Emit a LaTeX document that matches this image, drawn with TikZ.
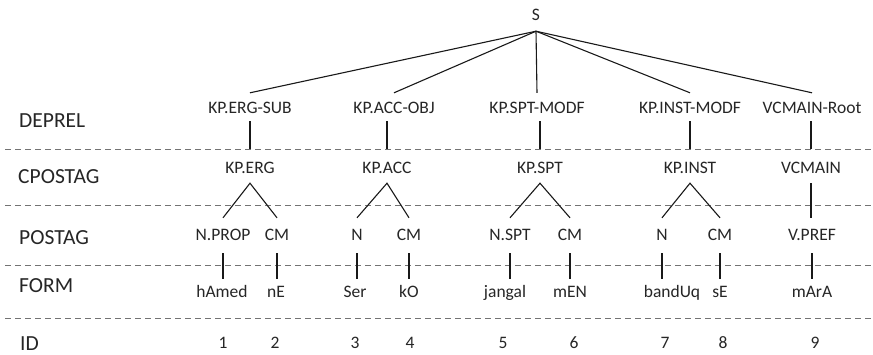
\documentclass[tikz,border=0pt]{standalone}
\usepackage{fontspec}
\setmainfont{Carlito}
\begin{document}
\begin{tikzpicture}[x=1pt,y=-1pt,
  lab/.style={anchor=base west, inner sep=0pt, font=\fontsize{21.5}{24}\selectfont, text=black!85},
  tok/.style={anchor=base, inner sep=0pt, font=\fontsize{17.5}{20}\selectfont, text=black!85},
  rootnode/.style={tok, text depth=11pt},
  depnode/.style={tok, text height=20pt, text depth=8pt},
  cposnode/.style={tok, text height=24pt, text depth=10pt},
  posnode/.style={tok, text height=22pt, text depth=13pt},
  formnode/.style={tok, text height=18pt},
  idnode/.style={tok},
  edge/.style={draw=black!90, line width=1.1pt},
  sepline/.style={draw=black!55, line width=1pt, dash pattern=on 6pt off 4pt}]
\useasboundingbox (0,0) rectangle (873,354);
\fill[white] (0,0) rectangle (873,354);

% row separators
\draw[sepline] (5,149) -- (873,149);
\draw[sepline] (5,205) -- (873,205);
\draw[sepline] (5,265) -- (873,265);
\draw[sepline] (5,318) -- (873,318);

% row labels
\node[lab] (lDEP) at (19,127) {DEPREL};
\node[lab] (lCPOS) at (18,183) {CPOSTAG};
\node[lab] (lPOS) at (19,244) {POSTAG};
\node[lab] (lFORM) at (19,292) {FORM};
\node[lab] (lID) at (20,350) {ID};

% root
\node[rootnode] (S) at (536,20) {S};

% DEPREL
\node[depnode] (d1) at (250,113) {KP.ERG-SUB};
\node[depnode] (d2) at (394,113) {KP.ACC-OBJ};
\node[depnode] (d3) at (537,113) {KP.SPT-MODF};
\node[depnode] (d4) at (690,113) {KP.INST-MODF};
\node[depnode] (d5) at (812,113) {VCMAIN-Root};

% CPOSTAG
\node[cposnode] (c1) at (250,173) {KP.ERG};
\node[cposnode] (c2) at (387,173) {KP.ACC};
\node[cposnode] (c3) at (540,173) {KP.SPT};
\node[cposnode] (c4) at (690,173) {KP.INST};
\node[cposnode] (c5) at (811,173) {VCMAIN};

% POSTAG
\node[posnode] (p1) at (223,240) {N.PROP};
\node[posnode] (p2) at (277,240) {CM};
\node[posnode] (p3) at (357,240) {N};
\node[posnode] (p4) at (409,240) {CM};
\node[posnode] (p5) at (510,240) {N.SPT};
\node[posnode] (p6) at (570,240) {CM};
\node[posnode] (p7) at (662,240) {N};
\node[posnode] (p8) at (720,240) {CM};
\node[posnode] (p9) at (812,240) {V.PREF};

% FORM
\node[formnode] (f1) at (222,297) {hAmed};
\node[formnode] (f2) at (276,297) {nE};
\node[formnode] (f3) at (355,297) {Ser};
\node[formnode] (f4) at (409,297) {kO};
\node[formnode] (f5) at (505,297) {jangal};
\node[formnode] (f6) at (570,297) {mEN};
\node[formnode] (f7) at (672,297) {bandUq};
\node[formnode] (f8) at (720,297) {sE};
\node[formnode] (f9) at (812,297) {mArA};

% ID
\node[idnode] (i1) at (223,348) {1};
\node[idnode] (i2) at (275,348) {2};
\node[idnode] (i3) at (355,348) {3};
\node[idnode] (i4) at (410,348) {4};
\node[idnode] (i5) at (503,348) {5};
\node[idnode] (i6) at (574,348) {6};
\node[idnode] (i7) at (665,348) {7};
\node[idnode] (i8) at (723,348) {8};
\node[idnode] (i9) at (815,348) {9};

% root to DEPREL
\foreach \d in {d1,d2,d3,d4,d5} \draw[edge] (S.south) -- (\d.north);

% DEPREL to CPOSTAG
\draw[edge] (c1.north |- d1.south) -- (c1.north);
\draw[edge] (c2.north |- d2.south) -- (c2.north);
\draw[edge] (c3.north |- d3.south) -- (c3.north);
\draw[edge] (c4.north |- d4.south) -- (c4.north);
\draw[edge] (c5.north |- d5.south) -- (c5.north);

% CPOSTAG to POSTAG
\draw[edge] (p1.north) -- (c1.south) -- (p2.north);
\draw[edge] (p3.north) -- (c2.south) -- (p4.north);
\draw[edge] (p5.north) -- (c3.south) -- (p6.north);
\draw[edge] (p7.north) -- (c4.south) -- (p8.north);
\draw[edge] (c5.south) -- (c5.south |- p9.north);

% POSTAG to FORM
\foreach \i in {1,...,9} \draw[edge] (p\i.south) -- (p\i.south |- f\i.north);
\end{tikzpicture}
\end{document}
